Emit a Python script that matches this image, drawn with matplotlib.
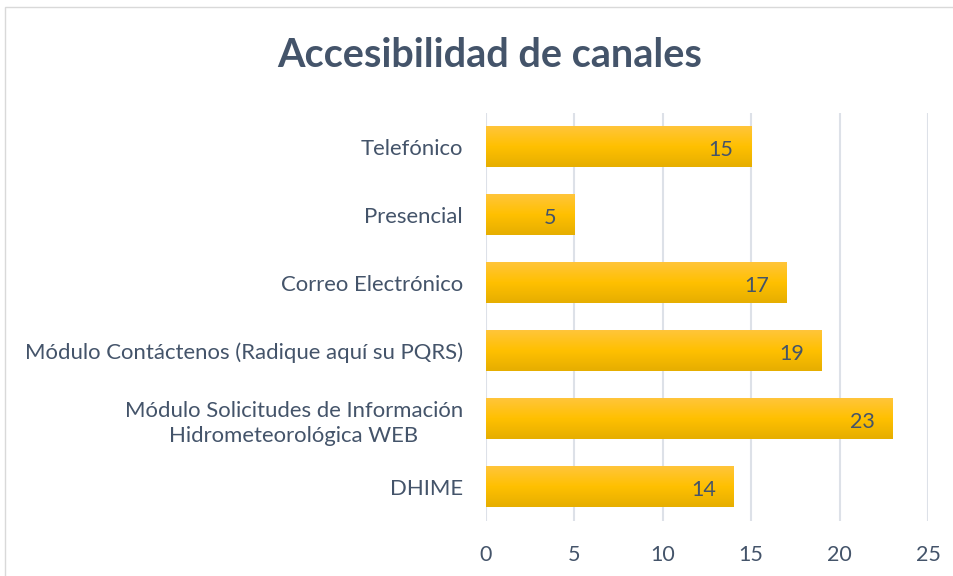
import numpy as np
import matplotlib.pyplot as plt
from matplotlib.colors import LinearSegmentedColormap
from matplotlib.patches import Rectangle

categories = ['DHIME',
              'Módulo Solicitudes de Información\nHidrometeorológica WEB',
              'Módulo Contáctenos (Radique aquí su PQRS)',
              'Correo Electrónico',
              'Presencial',
              'Telefónico']
values = [14, 23, 19, 17, 5, 15]
x_ticks = [0, 5, 10, 15, 20, 25]

text_color = '#44546A'
grid_color = '#DDE1E8'
plt.rcParams['font.family'] = ['Lato', 'DejaVu Sans']

fig = plt.figure(figsize=(9.54, 5.76), dpi=100)
fig.patches.append(Rectangle((0.005, -0.05), 1.2, 1.038, transform=fig.transFigure,
                             fill=False, edgecolor='#D9D9D9', linewidth=1))
ax = fig.add_axes([0.5094, 0.0955, 0.4633, 0.7083])

y = np.arange(len(categories))
bar_h = 0.59
bars = ax.barh(y, values, height=bar_h, color='none')

# vertical gradient fill for each bar
cmap = LinearSegmentedColormap.from_list('gold', ['#E6AE00', '#FFC000', '#FFC53A'])
grad = np.linspace(0, 1, 64).reshape(-1, 1)
for b in bars:
    x0, y0 = b.get_x(), b.get_y()
    ax.imshow(grad, cmap=cmap, origin='lower', aspect='auto', interpolation='bilinear',
              extent=(x0, x0 + b.get_width(), y0, y0 + b.get_height()), zorder=2)

for yi, v in zip(y, values):
    ax.text(v - 1.0, yi - 0.04, str(v), ha='right', va='center', fontsize=15.5,
            color=text_color, zorder=3)

ax.set_xlim(0, 25)
ax.set_ylim(-0.5, len(categories) - 0.5)
ax.set_xticks(x_ticks)
ax.set_xticklabels([str(t) for t in x_ticks])
ax.set_yticks(y)
ax.set_yticklabels(categories, multialignment='center', linespacing=1.3)
ax.tick_params(axis='both', length=0, labelsize=15.5, labelcolor=text_color)
ax.tick_params(axis='y', labelsize=15.9, pad=16.5)
ax.tick_params(axis='x', pad=17)
ax.xaxis.grid(True, color=grid_color, linewidth=1.5)
ax.set_axisbelow(True)
for s in ax.spines.values():
    s.set_visible(False)

fig.text(0.513, 0.903, 'Accesibilidad de canales', ha='center', va='center',
         fontsize=28.5, fontweight='bold', color=text_color)

fig.savefig('out.png', dpi=100)
